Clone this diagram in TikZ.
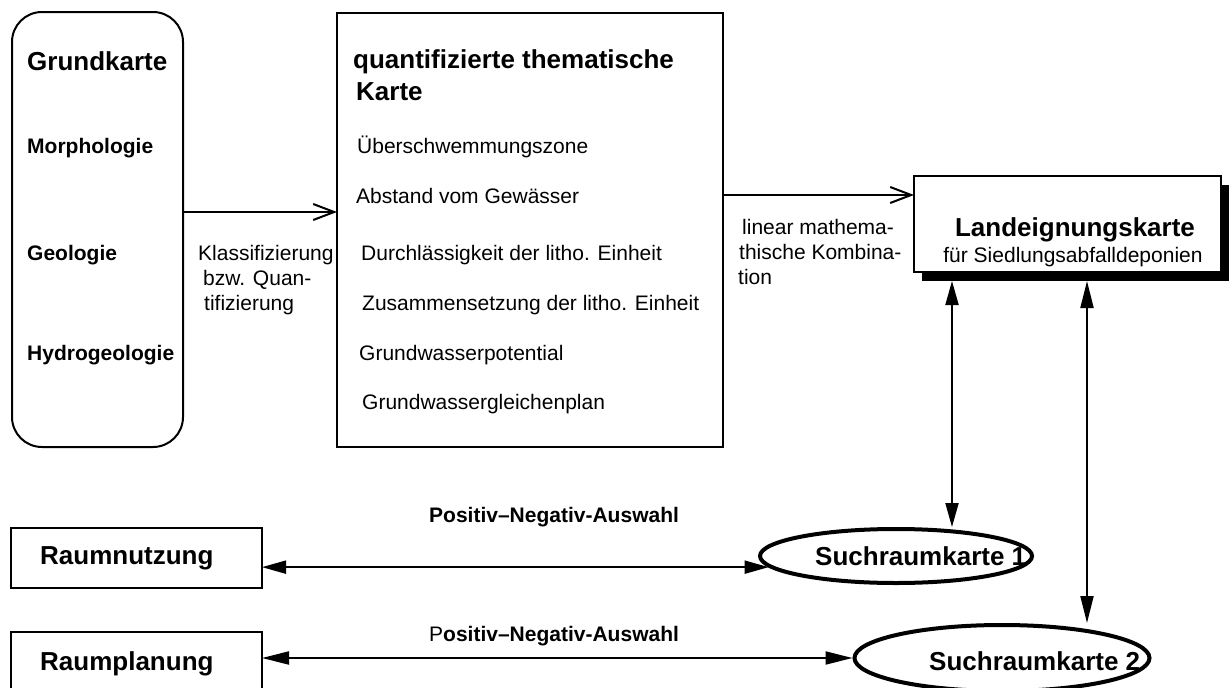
\documentclass[tikz,border=0pt]{standalone}
\usepackage{fontspec}
\setmainfont{Liberation Sans}
\usetikzlibrary{shapes.geometric,arrows.meta,calc,shadows}
\tikzset{
  boxline/.style={draw, line width=2pt, inner sep=0pt, outer sep=0pt, fill=white},
  txt/.style={anchor=base west, inner sep=0pt, font=\fontsize{21}{25}\selectfont},
  btxt/.style={anchor=base west, inner sep=0pt, font=\fontsize{21}{25}\selectfont\bfseries},
  ttl/.style={anchor=base west, inner sep=0pt, font=\fontsize{26}{30}\selectfont\bfseries},
  openarr/.style={line width=2pt, -{Straight Barb[length=21pt,width=16pt,line width=2pt]}},
  fillarr/.style={line width=2pt, {Triangle[length=24pt,width=13pt]}-{Triangle[length=24pt,width=13pt]}},
  fillarrb/.style={line width=2pt, {Triangle[length=27pt,width=13pt]}-{Triangle[length=27pt,width=13pt]}},
  ell/.style={draw, ellipse, line width=4pt, inner sep=0pt, fill=white},
}
\begin{document}
\begin{tikzpicture}[x=1pt,y=-1pt]
\useasboundingbox (0,0) rectangle (1229,688);
\clip (0,0) rectangle (1229,688);
% boxes
\node[boxline, rounded corners=30pt, anchor=north west, minimum width=171pt, minimum height=435pt] (grund) at (12,12) {};
\node[boxline, anchor=north west, minimum width=386pt, minimum height=434pt] (mid) at (337,13) {};
\node[boxline, line width=2.5pt, anchor=north west, minimum width=307pt, minimum height=96pt,
  drop shadow={shadow xshift=8pt, shadow yshift=-9pt, opacity=1, fill=black}] (land) at (914,176) {};
\node[boxline, anchor=north west, minimum width=251pt, minimum height=60pt] (rn) at (11,528) {};
\node[boxline, anchor=north west, minimum width=251pt, minimum height=70pt] (rp) at (11,632) {};
\node[ell, minimum width=272pt, minimum height=54pt] (e1) at (896,556) {};
\node[ell, minimum width=295pt, minimum height=66pt] (e2) at (1002,658) {};
% left box texts
\node[ttl] (t1) at (27,70) {Grundkarte};
\node[btxt] (t2) at (27,153) {Morphologie};
\node[btxt] (t3) at (27,260) {Geologie};
\node[btxt] (t4) at (27,360) {Hydrogeologie};
% middle box texts
\node[ttl] (m0) at (353,68) {quantifizierte thematische};
\node[ttl] (m1) at (356,100) {Karte};
\node[txt] (m2) at (357,153) {Überschwemmungszone};
\node[txt] (m3) at (356,203) {Abstand vom Gewässer};
\node[txt] (m4) at (361,260) {Durchlässigkeit der litho. Einheit};
\node[txt] (m5) at (362,310) {Zusammensetzung der litho. Einheit};
\node[txt] (m6) at (359,360) {Grundwasserpotential};
\node[txt] (m7) at (362,409) {Grundwassergleichenplan};
% arrow labels
\node[txt] (k1) at (198,260) {Klassifizierung};
\node[txt] (k2) at (203,285) {bzw. Quan-};
\node[txt] (k3) at (204,310) {tifizierung};
\node[txt] (l1) at (742,234) {linear mathema-};
\node[txt] (l2) at (739,259) {thische Kombina-};
\node[txt] (l3) at (738,284) {tion};
% land texts
\node[ttl, anchor=base] (lt1) at (1075,236) {Landeignungskarte};
\node[txt, anchor=base] (lt2) at (1073,262) {für Siedlungsabfalldeponien};
% bottom texts
\node[ttl] (rnt) at (40,564) {Raumnutzung};
\node[ttl] (rpt) at (40,670) {Raumplanung};
\node[ttl] (e1t) at (815,565) {Suchraumkarte 1};
\node[ttl] (e2t) at (929,670) {Suchraumkarte 2};
\node[btxt] (p1) at (429,522) {Positiv–Negativ-Auswahl};
\node[btxt] (p2) at (429,641) {{\mdseries P}ositiv–Negativ-Auswahl};
% connectors
\coordinate (ya) at (0,212);
\coordinate (yb) at (0,195);
\coordinate (xa) at (952,0);
\coordinate (xb) at (1087,0);
\coordinate (shb) at ($(land.south)+(0,9)$);
\draw[openarr] (grund.east |- ya) -- (mid.west |- ya);
\draw[openarr] (mid.east |- yb) -- (land.west |- yb);
\draw[fillarr] (xa |- e1.north) -- (xa |- shb);
\draw[fillarrb] (xb |- e2.north) -- (xb |- shb);
\draw[fillarr] (rn.east |- e1.185) -- (e1.185);
\draw[fillarrb] (rp.east |- e2.west) -- (e2.west);
\end{tikzpicture}
\end{document}
